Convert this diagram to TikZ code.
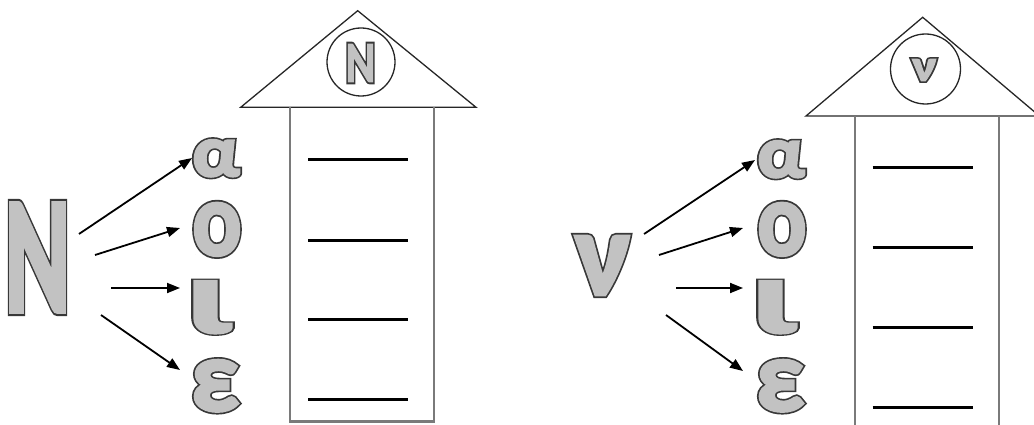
\documentclass[tikz,border=0pt]{standalone}
\usepackage{fontspec}
\usepackage{graphicx}
\newfontfamily\lf{Carlito}
\usetikzlibrary{arrows.meta}
\makeatletter
% two-layer outlined letter: dark wide stroke below, grey fill+stroke above
\newcommand\outl[3]{%
  \special{pdf:literal 2 Tr #2 w 0.22 0.22 0.22 RG 0.22 0.22 0.22 rg}\rlap{#3}%
  \special{pdf:literal 2 Tr #1 w 0.76 0.76 0.76 RG 0.76 0.76 0.76 rg}#3%
  \special{pdf:literal 0 Tr 0.4 w 0 0 0 RG 0 0 0 rg}}
% measure glyph #1 in the current font and fit its ink to #2 x #3
\newcommand\glyphcalc[4]{%
  \setbox0=\hbox{#1}%
  \count255=\XeTeXcharglyph`#1\relax
  \dimen1=\XeTeXglyphbounds1 \count255\relax
  \dimen2=\XeTeXglyphbounds2 \count255\relax
  \dimen3=\XeTeXglyphbounds3 \count255\relax
  \edef\gaw{\strip@pt\wd0}\edef\glsb{\strip@pt\dimen1}%
  \edef\gtp{\strip@pt\dimen2}\edef\grsb{\strip@pt\dimen3}%
  \pgfmathsetmacro\gsx{(#2)/(\gaw-\glsb-\grsb)}%
  \pgfmathsetmacro\gsy{(#3)/\gtp}%
  \pgfmathsetmacro\gk{\glsb*\gsx}%
  \pgfmathsetmacro\gwt{2*#4/sqrt(\gsx*\gsy)}%
  \pgfmathsetmacro\gwb{(2*#4+3.4)/sqrt(\gsx*\gsy)}}
% name, char, x0, y0, x1, y1, extra half-thickness
\newcommand\glyphnode[7]{%
  \node[inner sep=0pt,outer sep=0pt,anchor=base west] (#1) at (#3+#7+1.7,#6-#7-1.7)
    {\lf\bfseries\fontsize{100}{100}\selectfont
     \glyphcalc{#2}{#5-#3-2*#7-3.4}{#6-#4-2*#7-3.4}{#7}%
     \kern-\gk pt\scalebox{\gsx}[\gsy]{\outl{\gwt}{\gwb}{#2}}};}
\makeatother
\definecolor{rectgray}{HTML}{7A7A7A}
\tikzset{
  roof/.style={draw=black!85,line width=1.3pt,line join=miter},
  ring/.style={circle,draw=black!85,line width=1.3pt,minimum size=#1,inner sep=0pt},
  wall/.style={draw=rectgray,line width=2.2pt},
  rung/.style={draw=black,line width=3pt},
  arr/.style={draw=black,line width=1.8pt,-{Triangle[length=13pt,width=10pt]}}
}
\begin{document}
\begin{tikzpicture}[x=1pt,y=-1pt]
\useasboundingbox (0,0) rectangle (1034,425);
% ---------- left house ----------
\coordinate (LA) at (357.7,10.7);
\coordinate (LB) at (240.7,107.3);
\coordinate (LC) at (476,107.3);
\draw[roof] (LA) -- (LB) -- (LC) -- cycle;
\node[ring=68pt] (LR) at (361,62) {};
\coordinate (LW1) at (290.3,107.3);
\coordinate (LW2) at (434,421.5);
\draw[wall] (LW1) -- (LW1 |- LW2) -- (LW2) -- (LW2 |- LW1);
\foreach \y/\n in {160/1,240/2,319.5/3,399/4}{
  \coordinate (LL\n a) at (308,\y);
  \coordinate (LL\n b) at (408,\y);
  \draw[rung] (LL\n a) -- (LL\n b);
}
% ---------- right house ----------
\coordinate (RA) at (922.7,17.3);
\coordinate (RB) at (806,116);
\coordinate (RC) at (1039.4,116);
\draw[roof] (RA) -- (RB) -- (RC) -- cycle;
\node[ring=70pt] (RR) at (925.5,69) {};
\coordinate (RW1) at (855,116);
\coordinate (RW2) at (999.3,116);
\coordinate (RW3) at (855,440);
\coordinate (RW4) at (999.3,440);
\draw[wall] (RW1) -- (RW3);
\draw[wall] (RW2) -- (RW4);
\foreach \y/\n in {168/1,247.5/2,327/3,407/4}{
  \coordinate (RL\n a) at (872.7,\y);
  \coordinate (RL\n b) at (973.3,\y);
  \draw[rung] (RL\n a) -- (RL\n b);
}
% ---------- letters ----------
\glyphnode{N}{N}{7}{200}{68}{315}{2.2}
\glyphnode{la}{α}{192}{137}{242}{179}{1.4}
\glyphnode{lo}{ο}{192}{200}{242}{258}{1.4}
\glyphnode{li}{ι}{192}{278}{234}{336}{1.4}
\glyphnode{le}{ε}{192}{357}{241}{414}{1.4}
\glyphnode{sN}{N}{346}{42}{375}{84}{0.6}
\glyphnode{nu}{ν}{572}{233}{632}{298}{1.6}
\glyphnode{ra}{α}{757}{138}{807}{180}{1.4}
\glyphnode{ro}{ο}{757}{200}{807}{258}{1.4}
\glyphnode{ri}{ι}{757}{278}{799}{336}{1.4}
\glyphnode{re}{ε}{757}{357}{806}{414}{1.4}
\glyphnode{snu}{ν}{910}{57}{938}{83}{0.6}
% ---------- arrows ----------
\coordinate (s1) at (79,234);  \coordinate (e1) at (192,158);
\coordinate (s2) at (95,255);  \coordinate (e2) at (180,228);
\coordinate (s3) at (111,288); \coordinate (e3) at (180,288);
\coordinate (s4) at (101,315); \coordinate (e4) at (180,370);
\coordinate (t1) at (644,234); \coordinate (f1) at (755,160);
\coordinate (t2) at (659,255); \coordinate (f2) at (743,228);
\coordinate (t3) at (676,288); \coordinate (f3) at (743,288);
\coordinate (t4) at (666,315); \coordinate (f4) at (743,371);
\foreach \i in {1,2,3,4}{
  \draw[arr] (s\i) -- (e\i);
  \draw[arr] (t\i) -- (f\i);
}
\end{tikzpicture}
\end{document}
